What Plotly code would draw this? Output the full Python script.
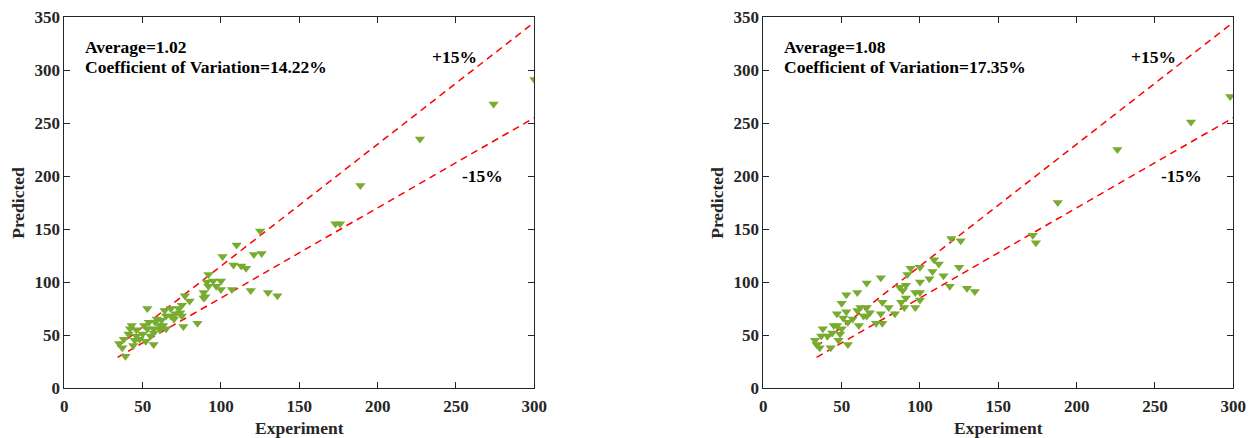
import plotly.graph_objects as go

# ---------------- data ----------------
exp_a = [300, 274, 227, 189, 173, 176,
         125, 110, 101, 121, 126, 108, 113, 116, 92, 91, 95, 100, 92, 97, 100, 107, 119, 130, 136,
         89, 90, 89, 77, 80, 53, 64, 68, 73, 75, 74, 75, 76, 85, 43, 42, 46, 41, 38, 35, 37, 39,
         44, 48, 52, 57, 50, 53, 57, 61, 65, 61, 62, 65, 70, 54, 58, 51, 46, 45, 55, 59, 68, 71, 63, 57]
pred_a = [291, 268, 235, 191, 155, 155,
          148, 135, 124, 126, 127, 116, 115, 113, 107, 100, 101, 101, 96, 96, 93, 93, 92, 90, 87,
          90, 86, 85, 87, 82, 75, 73, 75, 75, 78, 71, 68, 58, 61, 59, 56, 55, 51, 46, 42, 38, 30,
          40, 46, 44, 41, 51, 56, 56, 55, 56, 59, 64, 68, 65, 62, 62, 59, 49, 45, 49, 65, 68, 70, 59, 52]

exp_b = [298, 273, 226, 188, 172, 174,
         120, 126, 94, 100, 109, 112, 108, 125, 115, 106, 100, 92, 75, 66, 91, 87, 89, 119, 130, 135,
         97, 100, 91, 100, 88, 90, 97, 84, 53, 60, 50, 76, 80, 75, 72, 76, 47, 53, 60, 62, 66, 66, 68,
         57, 61, 54, 51, 45, 38, 41, 33, 34, 36, 43, 48, 54, 50, 44, 49, 37, 47, 64]
pred_b = [275, 251, 225, 175, 144, 137,
          141, 139, 113, 114, 121, 117, 110, 114, 106, 103, 100, 107, 104, 99, 97, 95, 92, 96, 94, 91,
          90, 90, 85, 83, 81, 76, 76, 70, 88, 90, 80, 81, 76, 70, 61, 61, 70, 72, 73, 76, 76, 68, 71,
          65, 59, 62, 66, 59, 56, 49, 45, 41, 38, 38, 45, 41, 56, 52, 51, 49, 59, 68]

line_x = [34, 300]
upper_factor = 1.15
lower_factor = 0.85

stats_a = ["Average=1.02", "Coefficient of Variation=14.22%"]
stats_b = ["Average=1.08", "Coefficient of Variation=17.35%"]

x_ticks = [0, 50, 100, 150, 200, 250, 300]
y_ticks = [0, 50, 100, 150, 200, 250, 300, 350]

# ---------------- figure ----------------
FONT = "Liberation Serif"
GREEN = "#77AC30"
TXT = "#262626"
W, H = 1252, 438
ydom = [1 - 388 / H, 1 - 17 / H]
xdom_a = [64.3 / W, 534.3 / W]
xdom_b = [763.3 / W, 1233.3 / W]

fig = go.Figure()

panels = [(exp_a, pred_a, stats_a, "x", "y", xdom_a), (exp_b, pred_b, stats_b, "x2", "y2", xdom_b)]
for ex, pr, stats, xa, ya, dom in panels:
    for f in (upper_factor, lower_factor):
        fig.add_trace(go.Scatter(x=line_x, y=[v * f for v in line_x], mode="lines",
                                 line=dict(color="red", width=1.5, dash="7px,5px"),
                                 xaxis=xa, yaxis=ya, showlegend=False, hoverinfo="skip"))
    fig.add_trace(go.Scatter(x=ex, y=pr, mode="markers",
                             marker=dict(symbol="triangle-down", size=9, color=GREEN,
                                         line=dict(width=0)),
                             xaxis=xa, yaxis=ya, showlegend=False))
    fig.add_annotation(x=12.1, y=321.5, xref=xa, yref=ya, text=f"<b>{stats[0]}</b>",
                       showarrow=False, xanchor="left", yanchor="middle",
                       font=dict(family=FONT, size=17.5, color="black"))
    fig.add_annotation(x=12.1, y=302.5, xref=xa, yref=ya, text=f"<b>{stats[1]}</b>",
                       showarrow=False, xanchor="left", yanchor="middle",
                       font=dict(family=FONT, size=17.5, color="black"))
    fig.add_annotation(x=249, y=312.5, xref=xa, yref=ya, text="<b>+15%</b>",
                       showarrow=False, xanchor="center", yanchor="middle",
                       font=dict(family=FONT, size=17.5, color="black"))
    fig.add_annotation(x=267, y=200, xref=xa, yref=ya, text="<b>-15%</b>",
                       showarrow=False, xanchor="center", yanchor="middle",
                       font=dict(family=FONT, size=17.5, color="black"))
    # axis titles
    fig.add_annotation(x=(dom[0] + dom[1]) / 2, y=1 - 428 / H, xref="paper", yref="paper",
                       text="<b>Experiment</b>", showarrow=False, xanchor="center", yanchor="middle",
                       font=dict(family=FONT, size=17.5, color=TXT))
    fig.add_annotation(x=dom[0] - 46 / W, y=(ydom[0] + ydom[1]) / 2, xref="paper", yref="paper",
                       text="<b>Predicted</b>", showarrow=False, xanchor="center", yanchor="middle",
                       textangle=-90, font=dict(family=FONT, size=17.5, color=TXT))

axis_common = dict(showline=True, linecolor=TXT, linewidth=1, mirror="ticks",
                   ticks="inside", ticklen=6, tickcolor=TXT, showgrid=False,
                   zeroline=False, automargin=False,
                   tickfont=dict(family=FONT, size=17, color=TXT))

def xaxis(dom, anchor):
    return dict(domain=dom, anchor=anchor, range=[0, 300], tickvals=x_ticks,
                ticktext=[f"<b>{v}</b>" for v in x_ticks], ticklabelstandoff=3, **axis_common)

def yaxis(anchor):
    return dict(domain=ydom, anchor=anchor, range=[0, 350], tickvals=y_ticks,
                ticktext=[f"<b>{v}</b>" for v in y_ticks], **axis_common)

fig.update_layout(
    width=W, height=H,
    margin=dict(l=0, r=0, t=0, b=0),
    paper_bgcolor="white", plot_bgcolor="white",
    xaxis=xaxis(xdom_a, "y"), yaxis=yaxis("x"),
    xaxis2=xaxis(xdom_b, "y2"), yaxis2=yaxis("x2"),
)

fig.write_html("out.html")
